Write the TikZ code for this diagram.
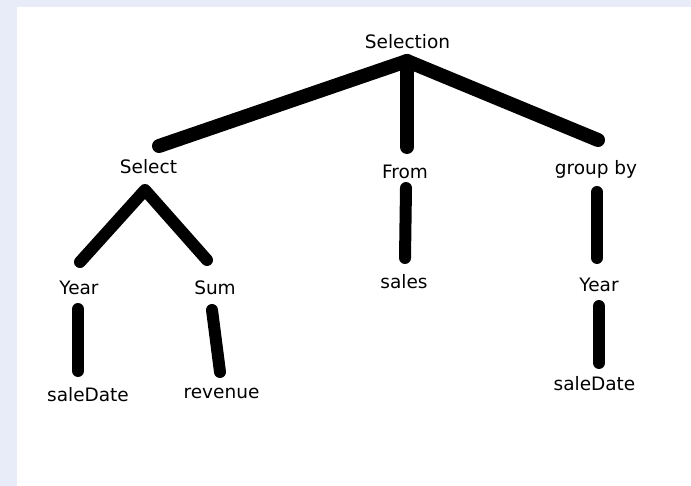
\documentclass[tikz,border=0pt]{standalone}
\usepackage{fontspec}
\setmainfont{DejaVu Sans}
\definecolor{bgband}{RGB}{232,235,248}
\begin{document}
\begin{tikzpicture}[x=1pt,y=-1pt,
  lbl/.style={anchor=base,inner sep=0pt,font=\fontsize{18.5}{22}\selectfont},
  thickline/.style={line width=14pt,line cap=round,line join=round},
  branch/.style={line width=12pt,line cap=round,line join=round}]
\useasboundingbox (0,0) rectangle (691,486);
\fill[bgband] (0,0) rectangle (691,486);
\fill[white] (17,7) rectangle (691,486);
% labels
\node[lbl] (selection) at (407.5,49) {Selection};
\node[lbl] (select) at (148.5,174) {Select};
\node[lbl] (from) at (405,179) {From};
\node[lbl] (groupby) at (596,175) {group by};
\node[lbl] (yearL) at (79,295) {Year};
\node[lbl] (sum) at (215,295) {Sum};
\node[lbl] (sales) at (404,289) {sales};
\node[lbl] (yearR) at (599,292) {Year};
\node[lbl] (saledateL) at (88,401) {saleDate};
\node[lbl] (revenue) at (221.5,399) {revenue};
\node[lbl] (saledateR) at (594.5,391) {saleDate};
% connector end points
\coordinate (rootApex) at (407,61);
\coordinate (rootL) at (159,146);
\coordinate (rootM) at (407,147);
\coordinate (rootR) at (598,140);
\coordinate (selApex) at (145,190);
\coordinate (selL) at (80,262);
\coordinate (selR) at (207,260);
\coordinate (yLtop) at (78,309);
\coordinate (yLbot) at (78,371);
\coordinate (sumTop) at (212,310);
\coordinate (sumBot) at (220,372);
\coordinate (fromTop) at (406,188);
\coordinate (fromBot) at (405,258);
\coordinate (gbTop) at (597,192);
\coordinate (gbBot) at (597,258);
\coordinate (yRtop) at (599,306);
\coordinate (yRbot) at (599,363);
% connectors
\draw[thickline] (rootL) -- (rootApex) -- (rootR);
\draw[thickline] (rootApex) -- (rootM);
\draw[branch] (selL) -- (selApex) -- (selR);
\draw[branch] (yLtop) -- (yLbot);
\draw[branch] (sumTop) -- (sumBot);
\draw[branch] (fromTop) -- (fromBot);
\draw[branch] (gbTop) -- (gbBot);
\draw[branch] (yRtop) -- (yRbot);
\end{tikzpicture}
\end{document}
